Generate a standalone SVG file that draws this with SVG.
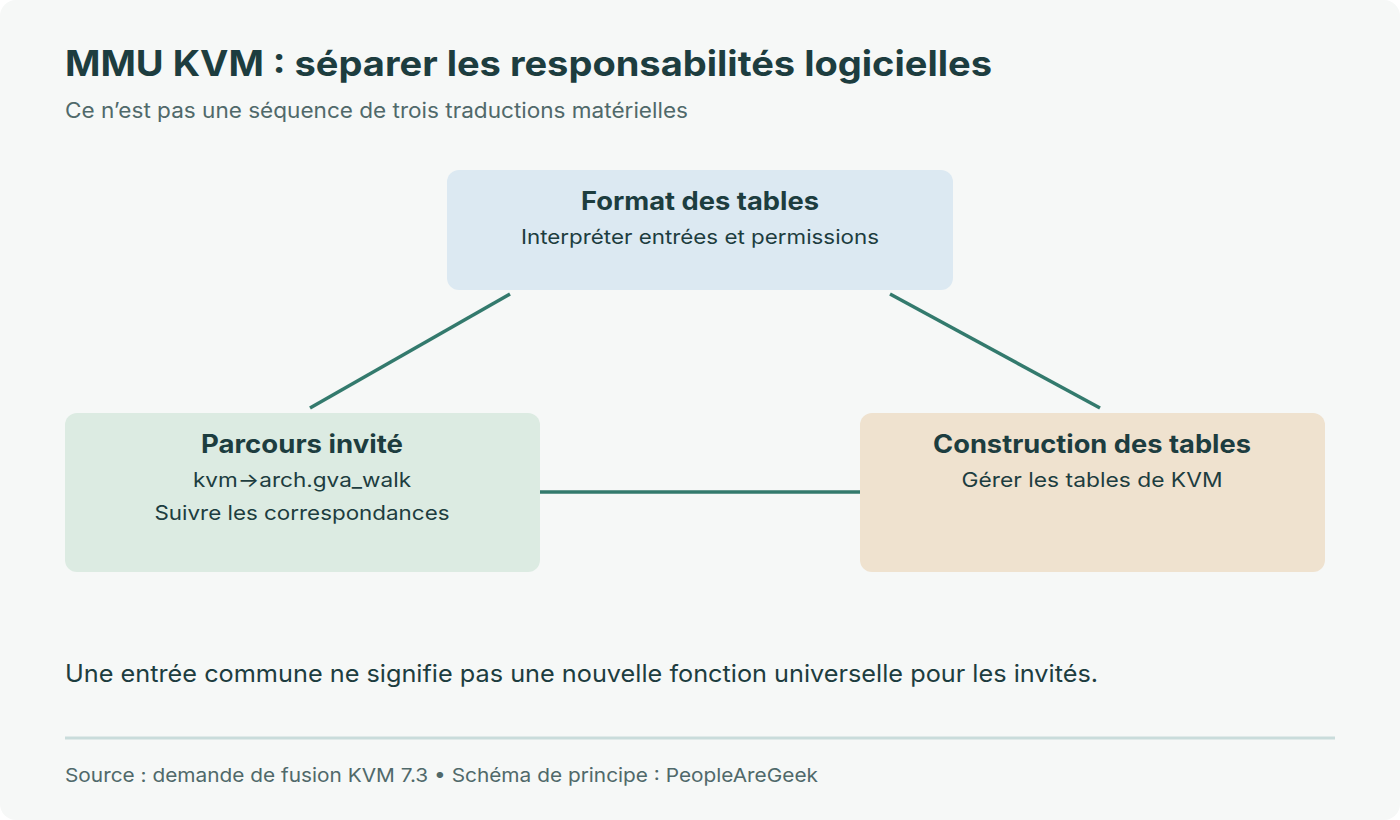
<svg xmlns="http://www.w3.org/2000/svg" width="1400" height="820" viewBox="0 0 1400 820">
<style>
text{font-family:Inter,"Liberation Sans",Arial,sans-serif;fill:#1d3d3f}
.t{font-weight:bold;font-size:25px;text-anchor:middle}
.s{font-size:20px;text-anchor:middle}
.c{stroke:#337a6d;stroke-width:3.5;fill:none}
</style>
<rect width="1400" height="820" rx="16" fill="#f6f8f7"/>
<text x="65" y="76" font-size="35" font-weight="bold" textLength="927" lengthAdjust="spacingAndGlyphs">MMU KVM : séparer les responsabilités logicielles</text>
<text x="65" y="118" font-size="21" style="fill:#50696a" textLength="623" lengthAdjust="spacingAndGlyphs">Ce n’est pas une séquence de trois traductions matérielles</text>
<g id="connectors">
<line class="c" x1="510" y1="294" x2="310" y2="408"/>
<line class="c" x1="890" y1="294" x2="1100" y2="408"/>
<line class="c" x1="540" y1="492" x2="860" y2="492"/>
</g>
<g id="format">
<rect x="447" y="170" width="506" height="120" rx="12" fill="#dce9f2"/>
<text class="t" x="700" y="210" textLength="238" lengthAdjust="spacingAndGlyphs">Format des tables</text>
<text class="s" x="700" y="244" textLength="358" lengthAdjust="spacingAndGlyphs">Interpréter entrées et permissions</text>
</g>
<g id="parcours">
<rect x="65" y="413" width="475" height="159" rx="12" fill="#dcebe2"/>
<text class="t" x="302" y="453" textLength="202" lengthAdjust="spacingAndGlyphs">Parcours invité</text>
<text class="s" x="302" y="487" textLength="218" lengthAdjust="spacingAndGlyphs">kvm-&gt;arch.gva_walk</text>
<text class="s" x="302" y="520" textLength="295" lengthAdjust="spacingAndGlyphs">Suivre les correspondances</text>
</g>
<g id="construction">
<rect x="860" y="413" width="465" height="159" rx="12" fill="#efe2cf"/>
<text class="t" x="1092" y="453" textLength="318" lengthAdjust="spacingAndGlyphs">Construction des tables</text>
<text class="s" x="1092" y="487" textLength="261" lengthAdjust="spacingAndGlyphs">Gérer les tables de KVM</text>
</g>
<text x="65" y="682" font-size="24" textLength="1033" lengthAdjust="spacingAndGlyphs">Une entrée commune ne signifie pas une nouvelle fonction universelle pour les invités.</text>
<line x1="65" y1="738" x2="1335" y2="738" stroke="#c9dcdb" stroke-width="3"/>
<text x="65" y="782" font-size="19" style="fill:#50696a" textLength="753" lengthAdjust="spacingAndGlyphs">Source : demande de fusion KVM 7.3 • Schéma de principe : PeopleAreGeek</text>
</svg>
